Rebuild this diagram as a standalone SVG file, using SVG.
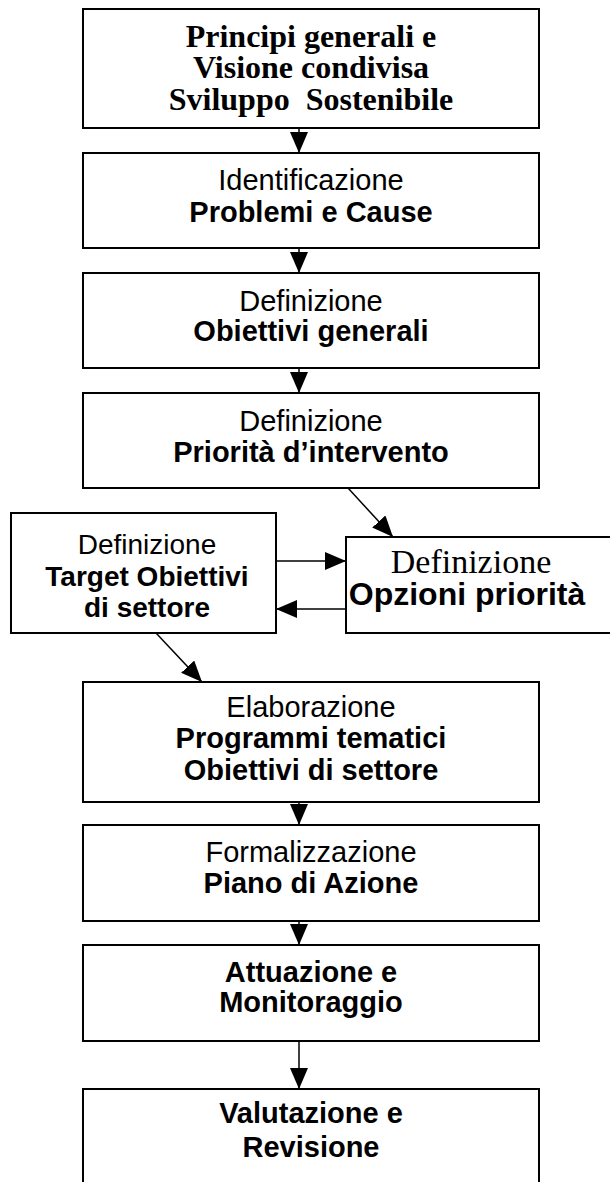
<svg xmlns="http://www.w3.org/2000/svg" width="610" height="1182" viewBox="0 0 610 1182">
<style>
.box{fill:#fff;stroke:#000;stroke-width:2}
.con{stroke:#000;stroke-width:1.5;fill:none;marker-end:url(#ah)}
.a{font-family:"Liberation Sans",Arial,sans-serif;font-size:29px;fill:#000;text-anchor:middle}
.ab{font-family:"Liberation Sans",Arial,sans-serif;font-size:29px;font-weight:bold;fill:#000;text-anchor:middle}
.tb{font-family:"Liberation Serif","Times New Roman",serif;font-size:32px;font-weight:bold;fill:#000;text-anchor:middle}
.t{font-family:"Liberation Serif","Times New Roman",serif;font-size:34px;fill:#000;text-anchor:middle}
</style>
<defs>
<marker id="ah" viewBox="0 0 21 18" refX="21" refY="9" markerWidth="21" markerHeight="18" markerUnits="userSpaceOnUse" orient="auto">
<path d="M0,0 L21,9 L0,18 z" fill="#000"/>
</marker>
</defs>
<rect width="610" height="1182" fill="#fff"/>
<g id="n1">
<rect class="box" x="83" y="9" width="456" height="119"/>
<text class="tb" x="311" y="47">Principi generali e</text>
<text class="tb" x="311" y="78">Visione condivisa</text>
<text class="tb" x="311" y="110" xml:space="preserve">Sviluppo  Sostenibile</text>
</g>
<g id="n2">
<rect class="box" x="83" y="153" width="456" height="95"/>
<text class="a" x="311" y="190">Identificazione</text>
<text class="ab" x="311" y="222">Problemi e Cause</text>
</g>
<g id="n3">
<rect class="box" x="83" y="273" width="456" height="95"/>
<text class="a" x="311" y="311">Definizione</text>
<text class="ab" x="311" y="341">Obiettivi generali</text>
</g>
<g id="n4">
<rect class="box" x="83" y="393" width="456" height="95"/>
<text class="a" x="311" y="431">Definizione</text>
<text class="ab" x="311" y="462">Priorità d’intervento</text>
</g>
<g id="n5">
<rect class="box" x="11" y="513" width="265" height="120"/>
<text class="a" x="147" y="554" style="font-size:28px">Definizione</text>
<text class="ab" x="147" y="586" style="font-size:28px">Target Obiettivi</text>
<text class="ab" x="147" y="617" style="font-size:28px">di settore</text>
</g>
<g id="n6">
<rect class="box" x="346" y="537" width="266" height="96"/>
<text class="t" x="471" y="573">Definizione</text>
<text class="ab" x="467" y="605" style="font-size:32px">Opzioni priorità</text>
</g>
<g id="n7">
<rect class="box" x="83" y="682" width="456" height="120"/>
<text class="a" x="311" y="717">Elaborazione</text>
<text class="ab" x="311" y="748">Programmi tematici</text>
<text class="ab" x="311" y="780">Obiettivi di settore</text>
</g>
<g id="n8">
<rect class="box" x="83" y="825" width="456" height="96"/>
<text class="a" x="311" y="862">Formalizzazione</text>
<text class="ab" x="311" y="893">Piano di Azione</text>
</g>
<g id="n9">
<rect class="box" x="83" y="945" width="456" height="96"/>
<text class="ab" x="311" y="982">Attuazione e</text>
<text class="ab" x="311" y="1012">Monitoraggio</text>
</g>
<g id="n10">
<rect class="box" x="83" y="1089" width="456" height="100"/>
<text class="ab" x="311" y="1123">Valutazione e</text>
<text class="ab" x="311" y="1157">Revisione</text>
</g>
<g id="connectors">
<line class="con" x1="299" y1="128" x2="299" y2="153"/>
<line class="con" x1="299" y1="248" x2="299" y2="273"/>
<line class="con" x1="299" y1="368" x2="299" y2="393"/>
<line class="con" x1="348" y1="488" x2="393" y2="537"/>
<line class="con" x1="276" y1="561" x2="346" y2="561"/>
<line class="con" x1="346" y1="609" x2="276" y2="609"/>
<line class="con" x1="156" y1="633" x2="202" y2="682"/>
<line class="con" x1="299" y1="802" x2="299" y2="825"/>
<line class="con" x1="299" y1="921" x2="299" y2="945"/>
<line class="con" x1="299" y1="1041" x2="299" y2="1089"/>
</g>
</svg>
